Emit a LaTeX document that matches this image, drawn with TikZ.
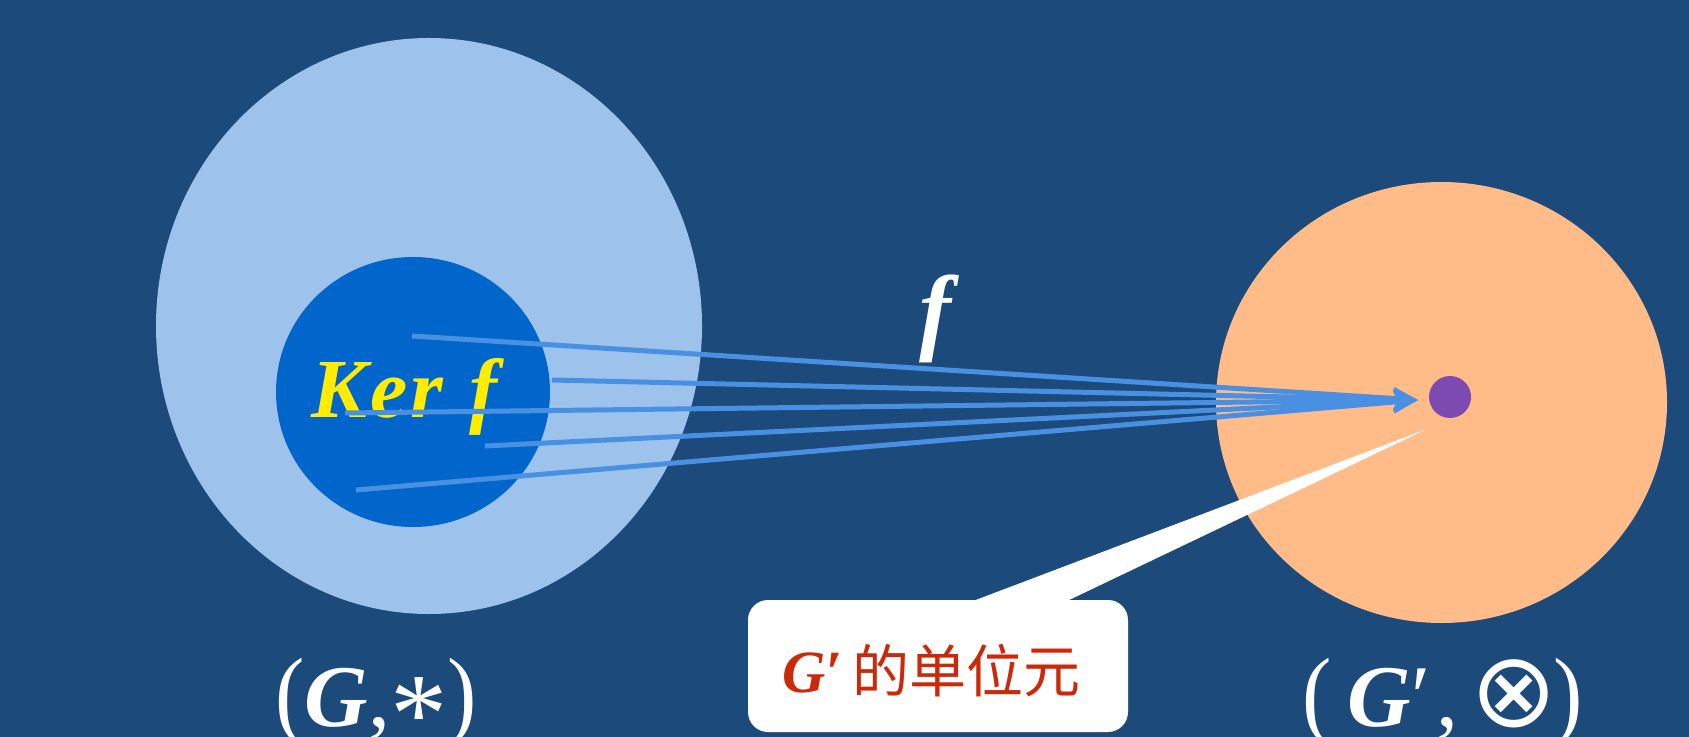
\documentclass[tikz,border=0pt]{standalone}
\usepackage{graphicx}
\usepackage{fontspec}
\setmainfont{Liberation Serif}
\newfontfamily\cjk{Noto Sans CJK SC}
\newfontfamily\symf{DejaVu Sans}
\usetikzlibrary{arrows.meta,shapes.geometric}
\definecolor{bg}{RGB}{27,74,123}
\definecolor{outerblue}{RGB}{157,195,236}
\definecolor{innerblue}{RGB}{0,102,204}
\definecolor{orangeset}{RGB}{255,188,136}
\definecolor{dotpurple}{RGB}{124,74,176}
\definecolor{keryellow}{RGB}{255,236,0}
\definecolor{maparrow}{RGB}{74,144,226}
\definecolor{calloutred}{RGB}{204,40,10}
\begin{document}
\begin{tikzpicture}[x=0.5pt,y=-0.5pt,
  blob/.style={ellipse, inner sep=0pt, draw=none},
  maparr/.style={draw=maparrow, line width=2.5pt, -{Stealth[length=12pt,width=11pt,inset=2pt]}},
  lbl/.style={inner sep=0pt, text=white, font=\fontsize{44}{48}\selectfont}]
\fill[bg] (0,0) rectangle (1689,737);
\useasboundingbox (0,0) rectangle (1689,737);
% sets
\node[blob, fill=outerblue, minimum width=273pt, minimum height=288pt] (G) at (429,326) {};
\node[blob, fill=innerblue, minimum width=137pt, minimum height=135pt] (ker) at (413,392) {};
\node[blob, fill=orangeset, minimum width=225.5pt, minimum height=220.5pt] (H) at (1441.5,402.5) {};
\node[circle, inner sep=0pt, fill=dotpurple, minimum size=21pt] (e) at (1450,397) {};
% kernel label
\node[inner sep=0pt, anchor=base west, text=keryellow, font=\fontsize{42}{44}\selectfont\bfseries\itshape] (kerlabel) at (311,417) {K\kern1.5pt e\kern1.5pt r\kern13pt f};
% map arrows
\coordinate (tip) at (1418,400);
\coordinate (s1) at (412,336);
\coordinate (s2) at (552,380);
\coordinate (s3) at (345,413);
\coordinate (s4) at (485,446);
\coordinate (s5) at (356,490);
\foreach \s in {s1,s2,s3,s4,s5} \draw[maparr] (\s) -- (tip);
\node[inner sep=0pt, anchor=base, text=white, font=\fontsize{48}{48}\selectfont\bfseries\itshape] (flabel) at (935,343) {f};
% callout
\node[fill=white, rounded corners=10pt, inner sep=0pt, minimum width=190pt, minimum height=66pt] (box) at (938,666) {};
\coordinate (tailL) at (973,601);
\coordinate (tailR) at (1067,601);
\coordinate (tailTip) at (1427,429);
\fill[white] (tailL) -- (tailTip) -- (tailR) -- cycle;
\node[inner sep=0pt, anchor=base west, text=calloutred] (ctext) at (782,692) {{\fontsize{30}{30}\selectfont\bfseries\itshape G′}\kern5pt{\cjk\fontsize{28.5}{30}\selectfont 的单位元}};
% group labels
\node[lbl, anchor=base west] (Glabel) at (275,726) {\scalebox{1}[1.12]{(}\textbf{\textit{G}},\raisebox{-13pt}{\scalebox{1.3}{*}}\scalebox{1}[1.12]{)}};
\node[lbl, anchor=base west] (Hlabel) at (1302,726) {\scalebox{1}[1.12]{(}\kern8pt\textbf{\textit{G}}′\kern3pt,\kern6pt{\symf\fontsize{52}{52}\selectfont ⊗}\kern-2pt\scalebox{1}[1.12]{)}};
\end{tikzpicture}
\end{document}
